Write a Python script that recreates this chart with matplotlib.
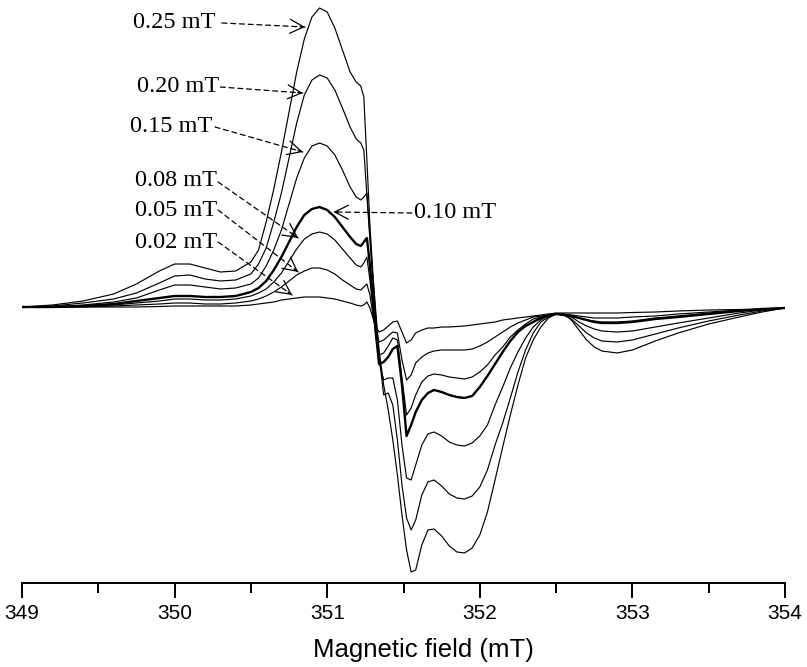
import numpy as np
import matplotlib
matplotlib.use("Agg")
import matplotlib.pyplot as plt

# Magnetic field grid (mT)
field = [349.0, 349.2, 349.4, 349.6, 349.75, 349.9, 350.0, 350.1, 350.2, 350.3,
         350.4, 350.5, 350.55, 350.6, 350.65, 350.7, 350.75, 350.8, 350.85, 350.9,
         350.95, 351.0, 351.05, 351.1, 351.15, 351.19, 351.22, 351.24, 351.26, 351.28,
         351.30, 351.32, 351.34, 351.37, 351.40, 351.43, 351.46, 351.49, 351.52, 351.55,
         351.58, 351.62, 351.66, 351.70, 351.75, 351.80, 351.85, 351.90, 351.95, 352.0,
         352.05, 352.1, 352.15, 352.2, 352.25, 352.3, 352.35, 352.4, 352.45, 352.5,
         352.55, 352.6, 352.65, 352.7, 352.75, 352.8, 352.9, 353.0, 353.15, 353.3,
         353.5, 353.7, 353.85, 354.0]

# EPR signal (arbitrary units) for each modulation amplitude
sig_002 = [0, 0, 0, 0, 0, 0.5, 1, 1, 1, 1,
           1, 2, 3, 4, 5, 7, 8, 9, 10, 10,
           10, 9, 8, 6, 4, 2, 1, 2, 5, -1,
           -11, -20, -25, -23, -19, -15, -14, -25, -36, -33,
           -26, -23, -21, -21, -20, -20, -19.5, -19, -18, -17,
           -16, -15, -13, -12, -11, -10, -9, -8, -7, -6,
           -6, -6, -6, -6, -6, -6, -6, -5.5, -5, -4,
           -3, -2.5, -2, -1]
sig_005 = [0, 0, 0, 1, 2, 3, 4, 4, 3, 3,
           4, 6, 8, 11, 15, 20, 26, 32, 36, 39,
           39, 37, 33, 27, 22, 18, 17, 20, 23, 12,
           -8, -25, -35, -33, -29, -25, -26, -53, -73, -68,
           -56, -50, -46, -44, -43, -43, -43, -43, -42, -39,
           -35, -30, -25, -20, -16, -13, -10, -9, -8, -7,
           -7, -8, -9, -10, -11, -11, -11, -10, -9, -7,
           -5, -3, -2, -1]
sig_008 = [0, 0, 1, 2, 4, 6, 8, 8, 7, 7,
           8, 11, 14, 18, 25, 34, 46, 58, 68, 73,
           75, 73, 67, 58, 49, 42, 40, 44, 50, 27,
           -3, -31, -48, -46, -39, -31, -33, -71, -108, -101,
           -88, -75, -69, -67, -68, -70, -71, -72, -70, -65,
           -58, -48, -40, -30, -23, -17, -12, -10, -8, -7,
           -8, -9, -11, -13, -14, -15, -15, -14, -11, -9,
           -6, -4, -2, -1]
sig_010 = [0, 0, 1, 3, 6, 9, 11, 11, 10, 10,
           11, 15, 19, 26, 37, 50, 65, 80, 92, 98,
           100, 97, 90, 80, 70, 63, 61, 65, 69, 42,
           7, -28, -57, -55, -50, -42, -39, -78, -129, -118,
           -105, -93, -86, -83, -85, -88, -90, -91, -89, -80,
           -69, -57, -45, -34, -25, -19, -15, -11, -8, -7,
           -8, -9, -11, -13, -15, -16, -16, -15, -12, -10,
           -7, -4, -2, -1]
sig_015 = [0, 0, 2, 5, 9, 17, 22, 22, 20, 18,
           19, 23, 29, 41, 57, 77, 103, 129, 149, 161,
           164, 161, 152, 137, 120, 110, 107, 110, 114, 72,
           27, -15, -55, -73, -71, -71, -93, -138, -171, -173,
           -158, -138, -127, -125, -129, -135, -138, -139, -136, -129,
           -118, -98, -80, -61, -45, -31, -20, -13, -9, -7,
           -8, -10, -15, -19, -22, -24, -25, -24, -20, -16,
           -11, -6, -3, -1]
sig_020 = [0, 1, 4, 8, 14, 24, 31, 32, 28, 26,
           27, 33, 43, 59, 85, 114, 149, 184, 212, 227,
           232, 229, 217, 199, 180, 168, 164, 157, 112, 67,
           27, -13, -48, -88, -86, -98, -133, -178, -211, -223,
           -213, -188, -175, -173, -179, -187, -191, -192, -189, -180,
           -163, -138, -116, -91, -65, -43, -26, -15, -10, -7,
           -8, -12, -19, -26, -31, -34, -35, -33, -27, -21,
           -14, -8, -4, -1]
sig_025 = [0, 2, 6, 13, 23, 36, 43, 43, 39, 35,
           36, 45, 57, 85, 118, 155, 195, 235, 268, 290,
           299, 295, 279, 257, 235, 225, 221, 210, 147, 82,
           32, -8, -43, -78, -103, -133, -168, -208, -243, -265,
           -263, -238, -223, -222, -229, -239, -245, -246, -241, -228,
           -205, -173, -140, -108, -78, -51, -33, -20, -11, -7,
           -7, -13, -23, -33, -40, -44, -46, -43, -34, -26,
           -17, -10, -5, -1]

labels = ["0.02 mT", "0.05 mT", "0.08 mT", "0.10 mT", "0.15 mT", "0.20 mT", "0.25 mT"]
series = [sig_002, sig_005, sig_008, sig_010, sig_015, sig_020, sig_025]

W, H = 807, 667
fig = plt.figure(figsize=(W / 100, H / 100), dpi=100)
ax = fig.add_axes([22 / W, 84 / H, 763 / W, 583 / H])

for lab, s in zip(labels, series):
    lw = 1.7 if lab == "0.10 mT" else 0.85
    ax.plot(field, s, color="black", lw=lw, solid_joinstyle="round",
            solid_capstyle="round")

ax.set_xlim(349, 354)
ax.set_ylim(-276, 307)

for sp in ["top", "left", "right"]:
    ax.spines[sp].set_visible(False)
ax.spines["bottom"].set_linewidth(1.4)
ax.set_yticks([])
ax.set_xticks([349, 350, 351, 352, 353, 354])
ax.set_xticks(np.arange(349.5, 354, 1.0), minor=True)
ax.tick_params(axis="x", which="major", direction="out", length=11, width=1.4,
               labelsize=15, pad=4)
ax.tick_params(axis="x", which="minor", direction="out", length=7, width=1.4)
for t in ax.get_xticklabels():
    t.set_fontfamily("Liberation Sans")
ax.set_xlabel("Magnetic field (mT)", fontsize=18.5, fontfamily="Liberation Sans")
ax.xaxis.set_label_coords(0.5256, -0.095)

# Annotations
ann_text = ["0.25 mT", "0.20 mT", "0.15 mT", "0.08 mT", "0.05 mT", "0.02 mT", "0.10 mT"]
ann_text_pos = [(350.27, 285), (350.29, 220), (350.25, 180), (350.28, 126), (350.28, 96), (350.28, 65), (351.57, 94)]
ann_tail = [(350.31, 284), (350.30, 220), (350.265, 180), (350.285, 125), (350.285, 97), (350.285, 65), (351.555, 94)]
ann_tip = [(350.855, 280), (350.84, 214), (350.84, 155), (350.81, 69), (350.81, 35), (350.77, 12), (351.04, 95)]
ann_ha = ["right", "right", "right", "right", "right", "right", "left"]

for txt, tp, tail, tip, ha in zip(ann_text, ann_text_pos, ann_tail, ann_tip, ann_ha):
    ax.text(tp[0], tp[1], txt, ha=ha, va="center", fontsize=17.5,
            fontfamily="Liberation Serif")
    # dashed shaft
    ax.annotate("", xy=tip, xytext=tail,
                arrowprops=dict(arrowstyle="-", lw=0.9, color="black",
                                linestyle=(0, (4, 3)), shrinkA=0, shrinkB=0))
    # solid open head
    p0 = ax.transData.transform(tail)
    p1 = ax.transData.transform(tip)
    L = float(np.hypot(*(p1 - p0)))
    ax.annotate("", xy=tip, xytext=tail,
                arrowprops=dict(arrowstyle="->, head_length=0.55, head_width=0.28",
                                lw=0.9, color="black", mutation_scale=18,
                                shrinkA=max(L - 5, 0) * 72 / 100, shrinkB=0))

fig.savefig("out.png", dpi=100)
